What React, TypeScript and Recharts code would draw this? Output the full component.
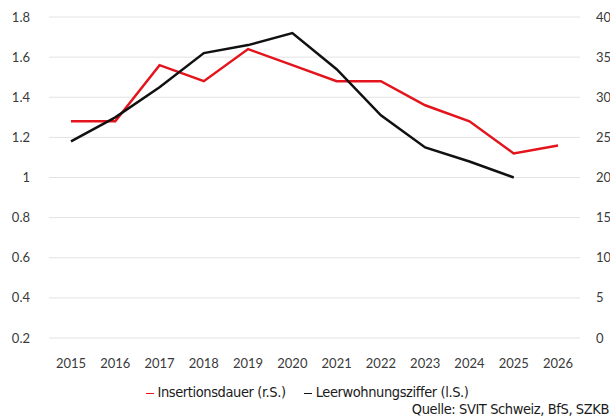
import { LineChart, Line, XAxis, YAxis, CartesianGrid, Legend } from "recharts";

const years = ["2015", "2016", "2017", "2018", "2019", "2020", "2021", "2022", "2023", "2024", "2025", "2026"];
// Leerwohnungsziffer in %, left axis
const leerwohnungsziffer = [1.18, 1.3, 1.45, 1.62, 1.66, 1.72, 1.54, 1.31, 1.15, 1.08, 1.0, null];
// Insertionsdauer in Tagen, right axis
const insertionsdauer = [27, 27, 34, 32, 36, 34, 32, 32, 29, 27, 23, 24];
const leftTicks = [0.2, 0.4, 0.6, 0.8, 1, 1.2, 1.4, 1.6, 1.8];
const rightTicks = [0, 5, 10, 15, 20, 25, 30, 35, 40];

const RED = "#e3141c";
const BLACK = "#111111";
const TICK = { fontSize: 13, fill: "#3a3a3a", fontFamily: "Lato, 'Open Sans', sans-serif" };
const NARROW = "'Liberation Sans Narrow', 'DejaVu Sans Condensed', 'Roboto Condensed', sans-serif";

const data = years.map((year, i) => ({
  year,
  leer: leerwohnungsziffer[i],
  ins: insertionsdauer[i],
}));

function ChartLegend() {
  const items = [
    { label: "Insertionsdauer (r.S.)", color: RED },
    { label: "Leerwohnungsziffer (l.S.)", color: BLACK },
  ];
  return (
    <div style={{ fontFamily: NARROW, fontSize: 14.5, color: "#1a1a1a", lineHeight: "17px", paddingTop: 5, letterSpacing: -0.4 }}>
      <div style={{ display: "flex", justifyContent: "center", gap: 18, paddingLeft: 4 }}>
        {items.map((it) => (
          <span key={it.label} style={{ display: "inline-flex", alignItems: "center" }}>
            <span
              aria-hidden
              style={{ display: "inline-block", width: 8, height: 0, borderTop: `1.5px solid ${it.color}`, marginRight: 4, marginTop: 1 }}
            />
            {it.label}
          </span>
        ))}
      </div>
      <div style={{ textAlign: "right", paddingRight: 1 }}>Quelle: SVIT Schweiz, BfS, SZKB</div>
    </div>
  );
}

export default function App() {
  return (
    <div style={{ position: "absolute", left: 0, top: 0, width: 610, height: 417, background: "#fff" }}>
      <LineChart width={610} height={417} data={data} margin={{ top: 17, right: 0, bottom: 0, left: 0 }}>
        <CartesianGrid yAxisId="left" vertical={false} stroke="#e2e2e2" strokeWidth={1} />
        <XAxis
          dataKey="year"
          axisLine={false}
          tickLine={false}
          tick={TICK}
          tickMargin={15}
          height={41}
          padding={{ left: 22, right: 22 }}
          interval={0}
        />
        <YAxis
          yAxisId="left"
          orientation="left"
          domain={[0.2, 1.8]}
          ticks={leftTicks}
          tickFormatter={(v: number) => String(v)}
          axisLine={false}
          tickLine={false}
          tickMargin={13}
          width={49}
          tick={TICK}
        />
        <YAxis
          yAxisId="right"
          orientation="right"
          domain={[0, 40]}
          ticks={rightTicks}
          axisLine={false}
          tickLine={false}
          tickMargin={10}
          width={30}
          tick={{ ...TICK, textAnchor: "start" }}
        />
        <Line
          yAxisId="right"
          dataKey="ins"
          name="Insertionsdauer (r.S.)"
          type="linear"
          stroke={RED}
          strokeWidth={2.5}
          dot={false}
          isAnimationActive={false}
        />
        <Line
          yAxisId="left"
          dataKey="leer"
          name="Leerwohnungsziffer (l.S.)"
          type="linear"
          stroke={BLACK}
          strokeWidth={2.5}
          dot={false}
          isAnimationActive={false}
        />
        <Legend verticalAlign="bottom" height={38} content={() => <ChartLegend />} />
      </LineChart>
    </div>
  );
}
